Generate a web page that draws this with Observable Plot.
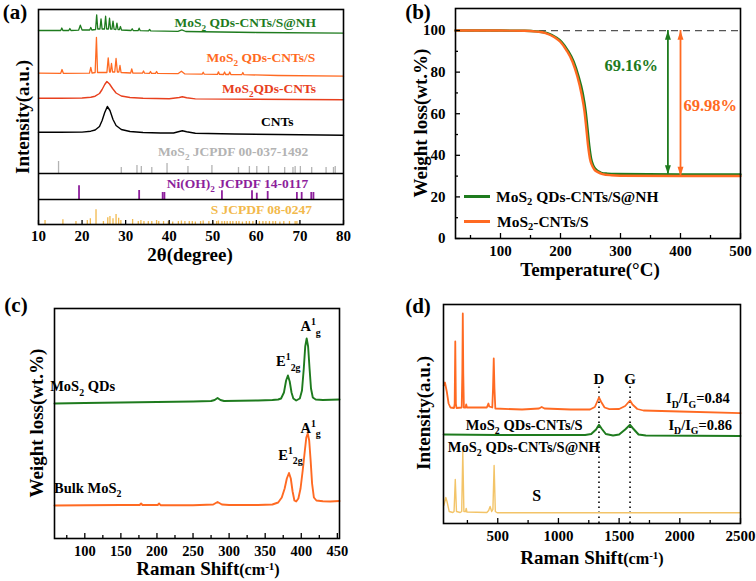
<!DOCTYPE html>
<html><head><meta charset="utf-8">
<script src="https://cdn.jsdelivr.net/npm/d3@7"></script>
<script src="https://cdn.jsdelivr.net/npm/@observablehq/plot@0.6"></script>
<style>
body{margin:0;background:#fff;}
#wrap{position:relative;width:756px;height:581px;font-family:"Liberation Serif","Times New Roman",serif;font-weight:bold;color:#000;overflow:hidden;background:#fff}
.panel{position:absolute}
.lbl{position:absolute;white-space:nowrap;line-height:1}
sub{font-size:0.68em;vertical-align:-0.25em;line-height:0}
sup{font-size:0.68em;vertical-align:0.45em;line-height:0}
</style></head><body><div id="wrap"></div>
<script>
// ---------- colours ----------
const green = "#1e7b1e", orange = "#ff6a22", red = "#e8401e", purple = "#8d1f9c",
      gray = "#b3b3b3", yellow = "#f2b94c", sYellow = "#f3c468";

// ---------- (a) XRD ----------
const xrdTicks = [10, 20, 30, 40, 50, 60, 70, 80];
const secS = 0, secNi = 25, secMo = 51; // baselines of the stacked reference sections
const cntsXRD = [[10,92.3],[15,92.3],[20,92.4],[22,93.3],[23,94.5],[24,98],[24.6,104],[25.2,112],[25.8,118],[26.4,114],[27.1,105],[27.8,99],[29,95],[31,93],[34,92],[38,91.5],[41,91.5],[42.3,93],[43,93.8],[44,92.8],[46,91.2],[55,90.5],[65,90],[80,89.2]];
const mos2CntsXRD = [[10,126.3],[15,126.3],[20,126.5],[22,127.3],[23,128.3],[24,131],[24.6,135],[25.2,140],[25.7,143],[26.3,140.5],[27,136],[27.8,131.5],[29,128.5],[31,127],[34,126.3],[40,125.7],[42.3,127],[43,127.8],[44,126.8],[46,125.6],[60,125.2],[80,124.8]];
const cntsSXRD = [[10,151.3],[15.1,151.2],[15.4,155],[15.7,151.2],[21.7,151.3],[22.0,157],[22.3,151.4],[23.0,152],[23.3,187],[23.55,152],[25.7,152],[26.0,166.7],[26.3,152.5],[26.5,152.5],[26.75,161],[27.0,152.5],[27.5,152.5],[27.8,166],[28.1,152.5],[28.45,152.5],[28.7,159],[28.95,152],[31.15,151.5],[31.4,155.7],[31.65,151.5],[33.85,151.3],[34.1,153.5],[34.35,151.3],[35.45,151.2],[35.7,153],[35.95,151.2],[36.85,151.1],[37.1,153],[37.35,151.1],[42,150.8],[42.8,153.3],[43.6,150.6],[47.55,150.3],[47.8,152.3],[48.05,150.3],[51.05,150.1],[51.3,152.7],[51.55,150.1],[52.45,150],[52.7,152.5],[52.95,150],[53.65,150],[53.9,152.5],[54.15,150],[56.65,149.8],[56.9,152],[57.15,149.8],[65,149],[80,148.3]];
const cntsSNHXRD = [[10,194],[15.1,194],[15.35,196.5],[15.6,194],[16.95,194],[17.2,196],[17.45,194],[19.2,194.3],[19.6,199.3],[20.0,194.5],[21.75,194.5],[22.0,197],[22.25,194.5],[23.1,195],[23.35,209.7],[23.6,195.5],[24.1,195.5],[24.35,205.7],[24.6,195.5],[25.15,195.5],[25.4,208.3],[25.65,195.5],[26.05,195.5],[26.3,206.3],[26.55,195.5],[26.85,195.3],[27.1,203.3],[27.35,195.3],[27.75,195],[28.0,201.3],[28.25,195],[28.55,194.8],[28.8,198],[29.05,194.5],[31.25,194],[31.5,195.7],[31.75,194],[32.85,193.8],[33.1,196.3],[33.35,193.8],[35.25,193.6],[35.5,195],[35.75,193.6],[42,193.2],[42.9,194.7],[43.8,193],[60,192],[80,191.3]];
const mos2Ref = [[14.6,12],[29.0,6],[32.6,8],[33.6,7],[36.0,6],[39.5,10],[44.3,7],[49.8,8],[55.9,6],[58.4,7],[60.1,7],[62.8,7],[66.5,6],[68.4,6],[68.9,7],[70.1,7],[72.7,6],[76.0,6],[77.7,6],[78.1,7]];
const niRef = [[19.3,13.7],[33.1,9],[38.5,7],[38.9,7],[52.1,8.7],[59.0,8.7],[60.1,6.3],[62.6,8],[69.3,7],[70.4,7],[72.6,7],[73.1,7]];
const sRef = [[11.5,4],[15.6,4.7],[18.6,3],[21.2,4],[21.9,5.7],[23.2,14.7],[24.9,3],[25.9,6.7],[26.4,8],[27.1,5.7],[27.8,10],[28.4,6.3],[28.9,4],[31.6,5],[32.9,3],[33.5,4],[34.2,3],[35.2,3],[36.0,3],[37.1,4],[37.6,3],[38.7,3],[39.8,3],[40.8,2.5],[42.1,3],[42.8,3.5],[43.6,3],[44.6,3],[45.3,3],[46.0,2.5],[47.2,3],[47.8,3.5],[49.1,3],[50.0,2.5],[50.9,3],[51.3,3.5],[52.1,3],[52.7,3],[53.3,3],[54.0,3],[54.6,3],[55.4,3],[56.0,3],[56.8,2.5],[57.7,3],[58.4,3],[59.2,3],[60.0,2.5],[60.7,3],[61.5,3],[62.2,3],[63.0,3],[63.8,3],[64.4,3],[65.4,2.5],[66.3,3],[67.6,3],[68.9,3],[69.3,3]];
const xrdLabels = [
  {t:"MoS_{2} QDs-CNTs/S@NH", x:73.7, y:202, c:green, a:"end"},
  {t:"MoS_{2} QDs-CNTs/S", x:73.5, y:167, c:orange, a:"end"},
  {t:"MoS_{2}QDs-CNTs", x:73.7, y:136, c:red, a:"end"},
  {t:"CNTs", x:64.8, y:103, c:"#000", a:"middle"},
  {t:"MoS_{2} JCPDF 00-037-1492", x:71.9, y:73, c:gray, a:"end"},
  {t:"Ni(OH)_{2} JCPDF 14-0117", x:71.9, y:41, c:purple, a:"end"},
  {t:"S JCPDF 08-0247", x:72.8, y:15, c:yellow, a:"end"}
];

// ---------- (b) TGA ----------
const tgaTicksX = [100, 200, 300, 400, 500], tgaMinorX = [50, 150, 250, 350, 450];
const tgaTicksY = [0, 20, 40, 60, 80, 100], tgaMinorY = [10, 30, 50, 70, 90];
const tgaNH = [[25,100],[100,100],[140,99.9],[160,99.6],[178,98.8],[192,96.8],[202,94.5],[212,90.5],[222,85],[230,78],[237,70],[242,61],[245,53],[248,44.5],[251,38.5],[254,35.5],[258,33.5],[263,32.3],[268,31.6],[278,31.2],[292,31.0],[400,30.86],[500,30.84]];
const tgaS = [[25,100],[100,100],[140,99.9],[160,99.5],[175,98.8],[190,96.8],[200,94.5],[210,90.5],[220,85],[228,78],[235,69.5],[240,61],[243,53],[246,44.5],[249,38.5],[252,35.5],[256,33.3],[263,31.8],[270,31],[285,30.4],[300,30.2],[400,30.05],[500,30.02]];
const lossNH = 69.16, lossS = 69.98;
const lossArrows = [
  {x:379, top:100, bottom:100 - lossNH, c:green, t:"69.16%", tx:318, ty:83},
  {x:400, top:100, bottom:100 - lossS, c:orange, t:"69.98%", tx:449.5, ty:64}
];

// ---------- (c) Raman MoS2 ----------
const ramanCTicks = [100, 150, 200, 250, 300, 350, 400, 450], ramanCMinor = [75, 125, 175, 225, 275, 325, 375, 425];
const qdsRaman = [[58,135],[100,135.5],[150,136],[200,136.5],[250,137],[275,137.5],[280,138.5],[284,140.5],[288,138.5],[293,137.5],[340,138],[360,138.5],[368,139],[372,140],[376,146],[379,158],[381.5,163],[384,157],[386.5,146],[389,140],[393,138],[398,140],[401,148],[403.5,170],[405.5,192],[407.5,200],[409.5,192],[411.5,170],[413.5,150],[416,141],[420,139],[430,138.5],[453,139]];
const bulkRaman = [[58,33],[100,33.3],[150,33.5],[176,33.5],[178,35],[180,33.5],[201,33.5],[203,35],[205,33.3],[250,33.3],[278,34],[284,36.5],[290,34],[300,33.5],[340,33.5],[360,34],[368,36],[373,41],[377,50],[380,60],[383,65.5],[385.5,60],[388,47],[390.5,38],[393,37],[396,40],[399,50],[402,68],[405,88],[407,101],[409,105],[411,98],[413,78],[415,55],[417.5,41],[421,38],[430,37.3],[440,37],[453,37.5]];
const ramanCLabels = [
  {t:"MoS_{2} QDs", x:97, y:151.7, a:"start"},
  {t:"E^{1}_{2g}", x:382, y:176.7, a:"middle"},
  {t:"A^{1}_{g}", x:413, y:211.7, a:"middle"},
  {t:"A^{1}_{g}", x:413, y:110, a:"middle"},
  {t:"E^{1}_{2g}", x:385, y:83, a:"middle"},
  {t:"Bulk MoS_{2}", x:104, y:50, a:"start"}
];

// ---------- (d) Raman composites ----------
const ramanDTicks = [500, 1000, 1500, 2000, 2500], ramanDMinor = [250, 750, 1250, 1750, 2250];
const bandD = 1334, bandG = 1590;
const cntsSRaman = [[55,138],[65,141],[80,132],[95,120],[110,116],[140,115.5],[145,120],[150,182],[155,120],[160,115.5],[203,116],[208,150],[212,210],[216,150],[221,116],[235,116],[240,119],[246,116],[410,116],[418,118.5],[423,120],[430,117],[455,116],[461,135],[467,165],[473,135],[480,115],[700,114],[840,115],[862,116.5],[885,115],[1100,114],[1260,114],[1300,116.5],[1320,122],[1334,126],[1350,122],[1380,116],[1420,114.3],[1500,114.5],[1550,117.5],[1575,121],[1590,123],[1610,119],[1650,114.5],[1700,113],[2000,112],[2500,110.4]];
const cntsSNHRaman = [[55,89],[500,88.5],[1000,88.5],[1220,88.5],[1270,89.5],[1310,94],[1334,98.7],[1355,95],[1390,89.5],[1450,88],[1500,89],[1550,94],[1590,98.7],[1615,95],[1660,89],[1720,88],[2500,87.5]];
const sRaman = [[55,18],[62,21],[72,26],[82,22],[100,12],[130,11],[140,12],[150,44],[160,12],[175,11.5],[190,11],[203,12],[212,72],[221,12],[235,12],[240,15],[246,11.5],[410,11],[425,13],[437,17],[450,12],[460,14],[470,58],[480,12],[495,10.7],[2500,10.7]];
const ramanDLabels = [
  {t:"I_{D}/I_{G}=0.84", x:2412, y:124.7, a:"end", s:14.5},
  {t:"I_{D}/I_{G}=0.86", x:2431, y:98, a:"end", s:14.5},
  {t:"MoS_{2} QDs-CNTs/S", x:237, y:98, a:"start", s:14.5},
  {t:"MoS_{2} QDs-CNTs/S@NH", x:89, y:76.3, a:"start", s:14.5},
  {t:"S", x:821, y:27.3, a:"middle", s:16},
  {t:"D", x:bandD, y:144, a:"middle", s:15},
  {t:"G", x:bandG, y:144, a:"middle", s:15}
];

// ---------- helpers ----------
const wrap = document.getElementById("wrap");
const FONT = '"Liberation Serif","Times New Roman",serif';
const st = fs => ({fontFamily: FONT, fontWeight: "bold", fontSize: fs + "px", color: "#000", background: "none", overflow: "visible"});
const X = d => d[0], Y = d => d[1];
const plain = d => String(d);
function ticksX(vals, ydom, ih, len) {
  return Plot.ruleX(vals, {x: d => d, y1: ydom[0], y2: ydom[0] + len * (ydom[1] - ydom[0]) / ih, strokeWidth: 1.3});
}
function ticksY(vals, xdom, iw, len) {
  return Plot.ruleY(vals, {y: d => d, x1: xdom[0], x2: xdom[0] + len * (xdom[1] - xdom[0]) / iw, strokeWidth: 1.3});
}
const triUp = {draw(c, size) { const s = Math.sqrt(size); c.moveTo(0, 0); c.lineTo(-0.42 * s, 1.3 * s); c.lineTo(0.42 * s, 1.3 * s); c.closePath(); }};
const triDown = {draw(c, size) { const s = Math.sqrt(size); c.moveTo(0, 0); c.lineTo(-0.42 * s, -1.3 * s); c.lineTo(0.42 * s, -1.3 * s); c.closePath(); }};

function rich(svg) {
  const NS = "http://www.w3.org/2000/svg";
  svg.querySelectorAll("text").forEach(t => {
    const s = t.textContent;
    if (!/[_^]\{/.test(s)) return;
    const fs = parseFloat(getComputedStyle(t).fontSize) || 14;
    t.textContent = "";
    const re = /([_^])\{([^}]*)\}|([^_^]+)/g;
    let m, cur = 0;
    while ((m = re.exec(s))) {
      const ts = document.createElementNS(NS, "tspan");
      let target = 0;
      if (m[1] === "_") { target = 0.28 * fs; ts.setAttribute("font-size", 0.68 * fs); ts.textContent = m[2]; }
      else if (m[1] === "^") { target = -0.42 * fs; ts.setAttribute("font-size", 0.68 * fs); ts.textContent = m[2]; }
      else ts.textContent = m[3];
      if (target !== cur) ts.setAttribute("dy", target - cur);
      cur = target;
      t.appendChild(ts);
    }
  });
}
function mount(plot, left, top) {
  const d = document.createElement("div");
  d.className = "panel"; d.style.left = left + "px"; d.style.top = top + "px";
  d.appendChild(plot); wrap.appendChild(d); rich(plot);
}
function label(html, cx, cy, size, rot, color) {
  const d = document.createElement("div");
  d.className = "lbl"; d.innerHTML = html;
  d.style.left = cx + "px"; d.style.top = cy + "px"; d.style.fontSize = size + "px";
  if (color) d.style.color = color;
  d.style.transform = "translate(-50%,-50%)" + (rot ? " rotate(-90deg)" : "");
  wrap.appendChild(d);
}
function labelL(html, x, cy, size) {
  const d = document.createElement("div");
  d.className = "lbl"; d.innerHTML = html;
  d.style.left = x + "px"; d.style.top = cy + "px"; d.style.fontSize = size + "px";
  d.style.transform = "translateY(-50%)";
  wrap.appendChild(d);
}
function swatch(x, cy, w, color) {
  const d = document.createElement("div");
  d.style.position = "absolute"; d.style.left = x + "px"; d.style.top = (cy - 1.5) + "px";
  d.style.width = w + "px"; d.style.height = "3px"; d.style.background = color;
  wrap.appendChild(d);
}

// ---------- (a) ----------
{
  const xd = [10, 80], yd = [0, 215];
  const p = Plot.plot({
    width: 378, height: 290, marginLeft: 38, marginRight: 35, marginTop: 9, marginBottom: 66,
    style: st(15),
    x: {domain: xd, ticks: xrdTicks, tickFormat: plain, tickSize: 0, tickPadding: 6, label: null},
    y: {domain: yd, axis: null},
    marks: [
      Plot.ruleX(sRef, {x: X, y1: secS, y2: d => secS + d[1], stroke: yellow, strokeWidth: 1.3}),
      Plot.ruleX(niRef, {x: X, y1: secNi, y2: d => secNi + d[1], stroke: purple, strokeWidth: 1.8}),
      Plot.ruleX(mos2Ref, {x: X, y1: secMo, y2: d => secMo + d[1], stroke: gray, strokeWidth: 1.3}),
      Plot.ruleY([secNi, secMo], {strokeWidth: 1.6}),
      Plot.line(cntsXRD, {x: X, y: Y, stroke: "#000", strokeWidth: 1.4}),
      Plot.line(mos2CntsXRD, {x: X, y: Y, stroke: red, strokeWidth: 1.4}),
      Plot.line(cntsSXRD, {x: X, y: Y, stroke: orange, strokeWidth: 1.3}),
      Plot.line(cntsSNHXRD, {x: X, y: Y, stroke: green, strokeWidth: 1.3}),
      ...xrdLabels.map(l => Plot.text([l], {x: "x", y: "y", text: "t", fill: l.c, textAnchor: l.a, fontSize: 13.5})),
      ticksX(xrdTicks, yd, 215, 4),
      Plot.frame({strokeWidth: 1.6})
    ]
  });
  mount(p, 0, 0);
  label("(a)", 15, 12, 21);
  label("2θ(degree)", 190, 254, 19);
  label("Intensity(a.u.)", 22, 117, 19, true);
}

// ---------- (b) ----------
{
  const xd = [25, 500], yd = [0, 110.6];
  const iw = 378 - 77 - 16, ih = 290 - 8 - 52;
  const marks = [
    Plot.ruleY([100], {stroke: "#555", strokeDasharray: "7,5", strokeWidth: 1.3}),
    Plot.line(tgaNH, {x: X, y: Y, stroke: green, strokeWidth: 2.4, curve: "monotone-x"}),
    Plot.line(tgaS, {x: X, y: Y, stroke: orange, strokeWidth: 2.4, curve: "monotone-x"})
  ];
  for (const a of lossArrows) {
    marks.push(Plot.ruleX([a], {x: "x", y1: "top", y2: "bottom", stroke: a.c, strokeWidth: 1.8}));
    marks.push(Plot.dot([a], {x: "x", y: "top", symbol: triUp, r: 4, fill: a.c, stroke: "none"}));
    marks.push(Plot.dot([a], {x: "x", y: "bottom", symbol: triDown, r: 4, fill: a.c, stroke: "none"}));
    marks.push(Plot.text([a], {x: "tx", y: "ty", text: "t", fill: a.c, fontSize: 16.5}));
  }
  marks.push(ticksX(tgaTicksX, yd, ih, 5), ticksX(tgaMinorX, yd, ih, 3),
             ticksY(tgaTicksY, xd, iw, 5), ticksY(tgaMinorY, xd, iw, 3),
             Plot.frame({strokeWidth: 1.6}));
  const p = Plot.plot({
    width: 378, height: 290, marginLeft: 77, marginRight: 16, marginTop: 8, marginBottom: 52,
    style: st(15),
    x: {domain: xd, ticks: tgaTicksX, tickFormat: plain, tickSize: 0, tickPadding: 7, label: null},
    y: {domain: yd, ticks: tgaTicksY, tickFormat: plain, tickSize: 0, tickPadding: 10, label: null},
    marks
  });
  mount(p, 378, 0);
  label("(b)", 418, 12, 21);
  label("Temperature(°C)", 590, 269, 19);
  label("Weight loss(wt.%)", 420, 123, 19, true);
  swatch(464, 196.7, 26, green);
  labelL("MoS<sub>2</sub> QDs-CNTs/S@NH", 496, 197, 15.5);
  swatch(464, 221.7, 26, orange);
  labelL("MoS<sub>2</sub>-CNTs/S", 497, 222, 15.5);
}

// ---------- (c) ----------
{
  const xd = [58, 453], yd = [0, 230];
  const p = Plot.plot({
    width: 378, height: 291, marginLeft: 54, marginRight: 39, marginTop: 18, marginBottom: 43,
    style: st(14.5),
    x: {domain: xd, ticks: ramanCTicks, tickFormat: plain, tickSize: 0, tickPadding: 7, label: null},
    y: {domain: yd, axis: null},
    marks: [
      Plot.line(qdsRaman, {x: X, y: Y, stroke: green, strokeWidth: 1.9}),
      Plot.line(bulkRaman, {x: X, y: Y, stroke: orange, strokeWidth: 1.9}),
      Plot.text(ramanCLabels, {x: "x", y: "y", text: "t", textAnchor: d => d.a, fontSize: 14.5}),
      ticksX(ramanCTicks, yd, 230, 5), ticksX(ramanCMinor, yd, 230, 3),
      Plot.frame({strokeWidth: 1.6})
    ]
  });
  mount(p, 0, 290);
  label("(c)", 16, 305, 21);
  label('Raman Shift<span style="font-size:0.85em">(cm<sup>-1</sup>)</span>', 208, 569, 19);
  label("Weight loss(wt.%)", 36, 423, 19, true);
}

// ---------- (d) ----------
{
  const xd = [53, 2500], yd = [0, 219];
  const p = Plot.plot({
    width: 378, height: 291, marginLeft: 65, marginRight: 16, marginTop: 14, marginBottom: 58,
    style: st(15),
    x: {domain: xd, ticks: ramanDTicks, tickFormat: plain, tickSize: 0, tickPadding: 7, label: null},
    y: {domain: yd, axis: null},
    marks: [
      Plot.ruleX([bandD, bandG], {x: d => d, y1: 0, y2: 138, strokeDasharray: "1.5,3.5", strokeWidth: 1.6}),
      Plot.line(sRaman, {x: X, y: Y, stroke: sYellow, strokeWidth: 1.4}),
      Plot.line(cntsSNHRaman, {x: X, y: Y, stroke: green, strokeWidth: 2}),
      Plot.line(cntsSRaman, {x: X, y: Y, stroke: orange, strokeWidth: 1.8}),
      ...ramanDLabels.map(l => Plot.text([l], {x: "x", y: "y", text: "t", textAnchor: l.a, fontSize: l.s})),
      ticksX(ramanDTicks, yd, 219, 5), ticksX(ramanDMinor, yd, 219, 3),
      Plot.frame({strokeWidth: 1.6})
    ]
  });
  mount(p, 378, 290);
  label("(d)", 418, 306, 21);
  label('Raman Shift<span style="font-size:0.85em">(cm<sup>-1</sup>)</span>', 592, 558, 19);
  label("Intensity(a.u.)", 423, 413, 19, true);
}
</script></body></html>
